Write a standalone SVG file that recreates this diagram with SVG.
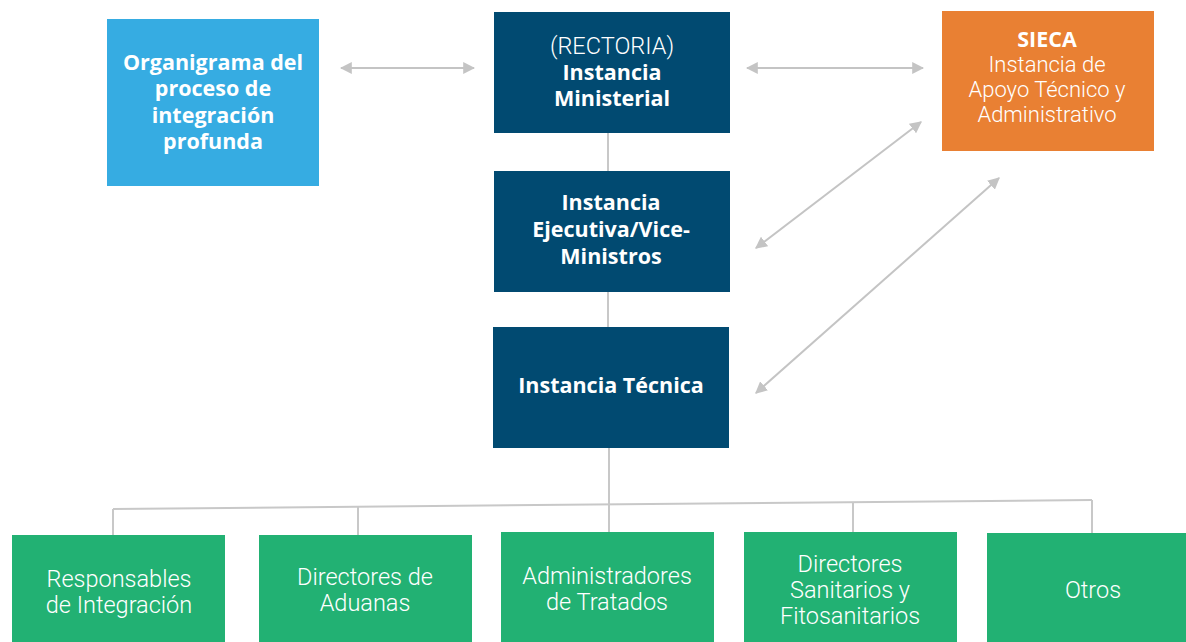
<svg xmlns="http://www.w3.org/2000/svg" width="1186" height="642" viewBox="0 0 1186 642">
<defs>
<style>
.t{fill:#fff;text-anchor:middle}
.b{font-family:"Open Sans","Liberation Sans",sans-serif;font-weight:700;font-size:21.5px}
.l{font-family:Roboto,"Liberation Sans",sans-serif;font-weight:300;font-size:23.5px}
.s{font-family:Roboto,"Liberation Sans",sans-serif;font-weight:300;font-size:22px}
.ln{stroke:#c8c8c8;stroke-width:2;fill:none}
.ar{stroke:#c4c4c4;stroke-width:2;fill:none;marker-start:url(#ah);marker-end:url(#ah)}
</style>
<marker id="ah" viewBox="0 0 10 10" refX="9" refY="5" markerWidth="6" markerHeight="6" orient="auto-start-reverse" markerUnits="strokeWidth">
<path d="M0,0 L10,5 L0,10 z" fill="#c4c4c4"/>
</marker>
</defs>
<rect width="1186" height="642" fill="#fff"/>
<g id="connectors">
<line class="ln" x1="608" y1="133" x2="608" y2="171"/>
<line class="ln" x1="608" y1="292" x2="608" y2="327"/>
<line class="ln" x1="609" y1="448" x2="609" y2="533"/>
<line class="ln" x1="113" y1="509" x2="1092" y2="500"/>
<line class="ln" x1="113" y1="509" x2="113" y2="536"/>
<line class="ln" x1="358" y1="506.7" x2="358" y2="536"/>
<line class="ln" x1="853" y1="502.2" x2="853" y2="533"/>
<line class="ln" x1="1092" y1="500" x2="1092" y2="534"/>
<line class="ar" x1="341" y1="68" x2="474" y2="68"/>
<line class="ar" x1="747" y1="68" x2="923" y2="68"/>
<line class="ar" x1="756" y1="248" x2="921" y2="122"/>
<line class="ar" x1="756" y1="393" x2="999" y2="178"/>
</g>
<g id="organigrama">
<rect x="107" y="19" width="212" height="167" fill="#36ace2"/>
<text class="t b" x="213" y="70">Organigrama del</text>
<text class="t b" x="213" y="96">proceso de</text>
<text class="t b" x="213" y="123">integración</text>
<text class="t b" x="213" y="149">profunda</text>
</g>
<g id="ministerial">
<rect x="494" y="12" width="236" height="121" fill="#014a71"/>
<text class="t s" x="612" y="54" style="font-size:23.5px">(RECTORIA)</text>
<text class="t b" x="612" y="80">Instancia</text>
<text class="t b" x="612" y="106">Ministerial</text>
</g>
<g id="ejecutiva">
<rect x="494" y="171" width="236" height="121" fill="#014a71"/>
<text class="t b" x="611" y="210">Instancia</text>
<text class="t b" x="611" y="237">Ejecutiva/Vice-</text>
<text class="t b" x="611" y="264">Ministros</text>
</g>
<g id="tecnica">
<rect x="493" y="327" width="236" height="121" fill="#014a71"/>
<text class="t b" x="611" y="393">Instancia Técnica</text>
</g>
<g id="sieca">
<rect x="942" y="11" width="212" height="140" fill="#e98033"/>
<text class="t b" x="1047" y="47">SIECA</text>
<text class="t s" x="1047" y="72">Instancia de</text>
<text class="t s" x="1047" y="97">Apoyo Técnico y</text>
<text class="t s" x="1047" y="122">Administrativo</text>
</g>
<g id="responsables">
<rect x="12" y="535" width="213" height="120" fill="#22b173"/>
<text class="t l" x="119" y="587">Responsables</text>
<text class="t l" x="119" y="613">de Integración</text>
</g>
<g id="aduanas">
<rect x="259" y="535" width="213" height="120" fill="#22b173"/>
<text class="t l" x="365" y="585">Directores de</text>
<text class="t l" x="365" y="611">Aduanas</text>
</g>
<g id="tratados">
<rect x="501" y="532" width="213" height="120" fill="#22b173"/>
<text class="t l" x="607" y="584">Administradores</text>
<text class="t l" x="607" y="610">de Tratados</text>
</g>
<g id="sanitarios">
<rect x="744" y="532" width="213" height="120" fill="#22b173"/>
<text class="t l" x="850" y="572">Directores</text>
<text class="t l" x="850" y="598">Sanitarios y</text>
<text class="t l" x="850" y="624">Fitosanitarios</text>
</g>
<g id="otros">
<rect x="987" y="533" width="213" height="120" fill="#22b173"/>
<text class="t l" x="1093" y="598">Otros</text>
</g>
</svg>
